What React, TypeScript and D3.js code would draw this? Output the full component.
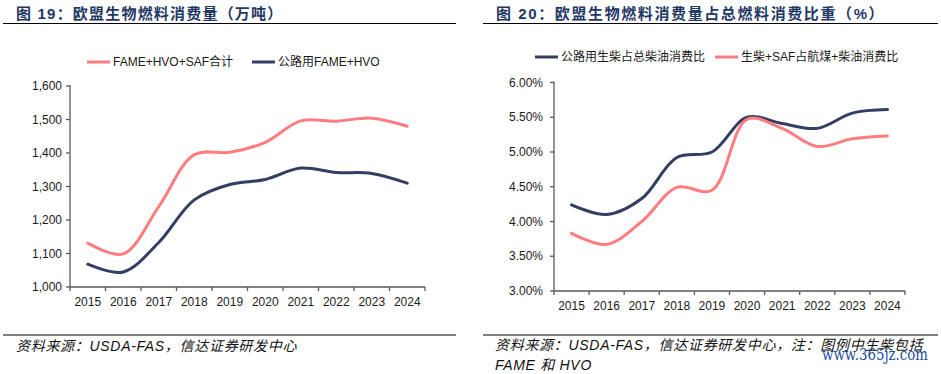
import React from "react";
import * as d3 from "d3";

const years = ["2015","2016","2017","2018","2019","2020","2021","2022","2023","2024"];
const totalFuel = [1131, 1099, 1240, 1395, 1402, 1432, 1496, 1495, 1504, 1480];
const roadFuel = [1068, 1045, 1133, 1260, 1306, 1321, 1355, 1342, 1339, 1310];
const leftTicks = [1000, 1100, 1200, 1300, 1400, 1500, 1600];

const roadShare = [4.24, 4.10, 4.33, 4.92, 5.00, 5.50, 5.41, 5.34, 5.56, 5.61];
const totalShare = [3.83, 3.67, 4.00, 4.49, 4.45, 5.47, 5.34, 5.08, 5.19, 5.23];
const rightTicks = [3.0, 3.5, 4.0, 4.5, 5.0, 5.5, 6.0];

const RED = "#FF7C80";
const NAVY = "#323E62";
const AXIS = "#595959";
const TITLE = "#1F3864";
const LATIN = "'Liberation Sans', Arial, 'Noto Sans CJK SC', sans-serif";
const CJK = "'Liberation Sans', 'Noto Sans CJK SC', sans-serif";

type Series = { values: number[]; color: string; name: string };

function Chart(props: {
  x0: number; x1: number; yTop: number; yBot: number;
  domain: [number, number]; ticks: number[]; fmt: (v: number) => string;
  series: Series[]; legendX: number[]; legendY: number; labelRight: number;
}) {
  const { x0, x1, yTop, yBot, domain, ticks, fmt, series, legendX, legendY, labelRight } = props;
  const x = d3.scaleBand<string>().domain(years).range([x0, x1]);
  const y = d3.scaleLinear().domain(domain).range([yBot, yTop]);
  const line = d3.line<number>()
    .x((_, i) => (x(years[i]) as number) + x.bandwidth() / 2)
    .y((v) => y(v))
    .curve(d3.curveCatmullRom.alpha(0.5));
  const bounds = years.map((yr) => x(yr) as number).concat([x1]);
  return (
    <g>
      {series.map((s) => (
        <path key={s.name} d={line(s.values) || ""} fill="none" stroke={s.color} strokeWidth={3} strokeLinecap="round" />
      ))}
      <line x1={x0} x2={x0} y1={yTop - 1} y2={yBot} stroke={AXIS} strokeWidth={1.3} />
      <line x1={x0} x2={x1} y1={yBot} y2={yBot} stroke={AXIS} strokeWidth={1.3} />
      {ticks.map((t) => (
        <g key={t}>
          <line x1={x0 - 4} x2={x0} y1={y(t)} y2={y(t)} stroke={AXIS} strokeWidth={1.3} />
          <text x={labelRight} y={y(t)} dy="0.35em" textAnchor="end" fontSize={12} fontFamily={LATIN} fill="#1a1a1a">{fmt(t)}</text>
        </g>
      ))}
      {bounds.map((b, i) => (
        <line key={i} x1={b} x2={b} y1={yBot} y2={yBot + 4} stroke={AXIS} strokeWidth={1.3} />
      ))}
      {years.map((yr) => (
        <text key={yr} x={(x(yr) as number) + x.bandwidth() / 2} y={yBot + 15} dy="0.35em" textAnchor="middle" fontSize={12} fontFamily={LATIN} fill="#1a1a1a">{yr}</text>
      ))}
      {series.map((s, i) => (
        <g key={"lg" + i}>
          <line x1={legendX[i]} x2={legendX[i] + 23} y1={legendY} y2={legendY} stroke={s.color} strokeWidth={3} />
          <text x={legendX[i] + 26} y={legendY} dy="0.35em" fontSize={12} fontFamily={CJK} fill="#1a1a1a">{s.name}</text>
        </g>
      ))}
    </g>
  );
}

export default function App() {
  return (
    <div style={{ position: "absolute", left: 0, top: 0 }}>
      <svg width={941} height={374} style={{ display: "block", background: "#fff" }}>
        <text x={16} y={19} fontSize={15} fontWeight="bold" fill={TITLE} fontFamily={CJK} letterSpacing={1.2}>图 19：欧盟生物燃料消费量（万吨）</text>
        <line x1={3} x2={456} y1={23.5} y2={23.5} stroke="#000" strokeWidth={1} />
        <text x={496} y={19} fontSize={15} fontWeight="bold" fill={TITLE} fontFamily={CJK} letterSpacing={1.6}>图 20：欧盟生物燃料消费量占总燃料消费比重（%）</text>
        <line x1={483} x2={938} y1={23.5} y2={23.5} stroke="#000" strokeWidth={1} />

        <Chart x0={70} x1={425} yTop={86} yBot={287} domain={[1000, 1600]} ticks={leftTicks}
          fmt={d3.format(",")} labelRight={62}
          series={[
            { values: totalFuel, color: RED, name: "FAME+HVO+SAF合计" },
            { values: roadFuel, color: NAVY, name: "公路用FAME+HVO" },
          ]}
          legendX={[87, 252]} legendY={62} />
        <Chart x0={554} x1={905} yTop={82.5} yBot={291} domain={[3, 6]} ticks={rightTicks}
          fmt={(v) => v.toFixed(2) + "%"} labelRight={543}
          series={[
            { values: roadShare, color: NAVY, name: "公路用生柴占总柴油消费比" },
            { values: totalShare, color: RED, name: "生柴+SAF占航煤+柴油消费比" },
          ]}
          legendX={[535, 715]} legendY={57} />

        <line x1={3} x2={456} y1={335} y2={335} stroke="#000" strokeWidth={1} />
        <line x1={483} x2={938} y1={335} y2={335} stroke="#000" strokeWidth={1} />
        <text x={16} y={351} fontSize={14} fontStyle="italic" fontFamily={CJK} fill="#111" letterSpacing={0.7}>资料来源：USDA-FAS，信达证券研发中心</text>
        <text x={495} y={350} fontSize={14} fontStyle="italic" fontFamily={CJK} fill="#111" letterSpacing={0.7}>资料来源：USDA-FAS，信达证券研发中心，注：图例中生柴包括</text>
        <text x={495} y={370} fontSize={14} fontStyle="italic" fontFamily={CJK} fill="#111" letterSpacing={0.7}>FAME 和 HVO</text>
        <text x={822} y={360} fontSize={16} textLength={106} lengthAdjust="spacingAndGlyphs" fontFamily="'DejaVu Serif', 'Liberation Serif', serif" fill="#1A4F9C">www.365jz.com</text>
      </svg>
    </div>
  );
}
